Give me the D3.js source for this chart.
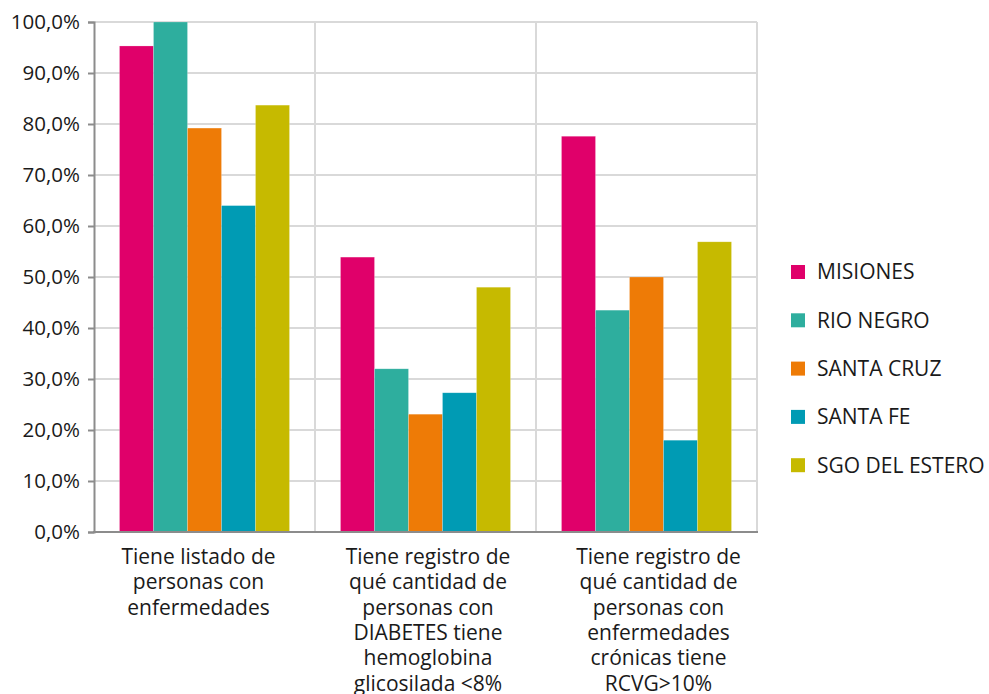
<!DOCTYPE html>
<html lang="es">
<head>
  <meta charset="UTF-8">
  <title>Registro de personas con enfermedades</title>
  <script src="https://cdnjs.cloudflare.com/ajax/libs/d3/7.8.5/d3.min.js"></script>
  <style>
    body {
      margin: 0;
      background: white;
    }
    svg {
      display: block;
      font-family: "Open Sans", "Noto Sans", sans-serif;
    }
  </style>
</head>
<body>
  <script>
    var categories = [
      "Tiene listado de\npersonas con\nenfermedades",
      "Tiene registro de\nqué cantidad de\npersonas con\nDIABETES tiene\nhemoglobina\nglicosilada <8%",
      "Tiene registro de\nqué cantidad de\npersonas con\nenfermedades\ncrónicas tiene\nRCVG>10%"
    ];
    var series = ["MISIONES", "RIO NEGRO", "SANTA CRUZ", "SANTA FE", "SGO DEL ESTERO"];
    var colors = ["#e0006a", "#2eae9e", "#ee7b06", "#009bb4", "#c6ba00"];

    // one array per province, one value per category (percent)
    var misiones = [95.3, 53.9, 77.6];
    var rioNegro = [100.0, 32.0, 43.5];
    var santaCruz = [79.2, 23.1, 50.0];
    var santaFe = [64.0, 27.3, 18.0];
    var sgoDelEstero = [83.7, 48.0, 56.9];

    var yTicks = [0, 10, 20, 30, 40, 50, 60, 70, 80, 90, 100];

    var values = [misiones, rioNegro, santaCruz, santaFe, sgoDelEstero];

    var w = 989;
    var h = 694;
    var plotLeft = 94, plotRight = 757, plotTop = 22, plotBottom = 532;
    // the source places the wrapped labels a little off the band centres
    var labelShift = [-6, 2.5, 12];

    var svg = d3.select("body").append("svg")
      .attr("width", w)
      .attr("height", h);

    var x0 = d3.scaleBand()
      .domain(d3.range(categories.length))
      .range([plotLeft, plotRight])
      .padding(0);

    var x1 = d3.scaleBand()
      .domain(series)
      .range([0, x0.bandwidth()])
      .paddingInner(0)
      .paddingOuter(0.75);

    var y = d3.scaleLinear()
      .domain([0, 100])
      .range([plotBottom, plotTop]);

    var color = d3.scaleOrdinal()
      .domain(series)
      .range(colors);

    // horizontal grid
    svg.append("g")
      .selectAll("line")
      .data(yTicks.slice(1))
      .enter()
      .append("line")
      .attr("x1", plotLeft)
      .attr("x2", plotRight)
      .attr("y1", function(d) { return y(d); })
      .attr("y2", function(d) { return y(d); })
      .attr("stroke", "#d9d9d9")
      .attr("stroke-width", 2);

    // vertical grid at category boundaries
    svg.append("g")
      .selectAll("line")
      .data(d3.range(1, categories.length + 1))
      .enter()
      .append("line")
      .attr("x1", function(d) { return plotLeft + x0.step() * d; })
      .attr("x2", function(d) { return plotLeft + x0.step() * d; })
      .attr("y1", plotTop)
      .attr("y2", plotBottom)
      .attr("stroke", "#d9d9d9")
      .attr("stroke-width", 2);

    // bars
    var groups = svg.append("g")
      .selectAll("g")
      .data(categories)
      .enter()
      .append("g")
      .attr("transform", function(d, i) { return "translate(" + x0(i) + ",0)"; });

    groups.selectAll("rect")
      .data(function(d, i) {
        return series.map(function(s, j) {
          return { key: s, value: values[j][i] };
        });
      })
      .enter()
      .append("rect")
      .attr("x", function(d) { return x1(d.key); })
      .attr("y", function(d) { return y(d.value); })
      .attr("width", x1.bandwidth())
      .attr("height", function(d) { return plotBottom - y(d.value); })
      .attr("fill", function(d) { return color(d.key); })
      .attr("stroke", "rgba(255,255,255,0.35)")
      .attr("stroke-width", 0.6);

    // y axis
    var yAxis = d3.axisLeft(y)
      .tickValues(yTicks)
      .tickSize(6)
      .tickPadding(8)
      .tickFormat(function(d) { return d.toFixed(1).replace(".", ",") + "%"; });

    var gy = svg.append("g")
      .attr("transform", "translate(" + plotLeft + ",0)")
      .call(yAxis);
    gy.select(".domain").attr("stroke", "#8c8c8c").attr("stroke-width", 2);
    gy.selectAll(".tick line").attr("stroke", "#8c8c8c").attr("stroke-width", 2);
    gy.selectAll(".tick text")
      .attr("fill", "#1a1a1a")
      .style("font-size", "20.5px")
      .style("font-family", "'Open Sans', sans-serif");

    // x axis line
    svg.append("line")
      .attr("x1", plotLeft - 1)
      .attr("x2", plotRight + 1)
      .attr("y1", plotBottom)
      .attr("y2", plotBottom)
      .attr("stroke", "#8c8c8c")
      .attr("stroke-width", 2);

    // category labels
    var labels = svg.append("g")
      .selectAll("text")
      .data(categories)
      .enter()
      .append("text")
      .attr("text-anchor", "middle")
      .attr("fill", "#1a1a1a")
      .style("font-size", "21px")
      .attr("transform", function(d, i) {
        return "translate(" + (x0(i) + x0.bandwidth() / 2 + labelShift[i]) + "," + (plotBottom + 32) + ")";
      });

    labels.selectAll("tspan")
      .data(function(d) { return d.split("\n"); })
      .enter()
      .append("tspan")
      .attr("x", 0)
      .attr("dy", function(d, i) { return i === 0 ? 0 : 25.3; })
      .text(function(d) { return d; });

    // legend
    var legend = svg.append("g")
      .selectAll("g")
      .data(series)
      .enter()
      .append("g")
      .attr("transform", function(d, i) { return "translate(791," + (272 + i * 48.3) + ")"; });

    legend.append("rect")
      .attr("x", 0)
      .attr("y", -7)
      .attr("width", 14)
      .attr("height", 14)
      .attr("fill", function(d) { return color(d); });

    legend.append("text")
      .attr("x", 26)
      .attr("y", 0)
      .attr("dy", "0.35em")
      .attr("fill", "#1a1a1a")
      .style("font-size", "21px")
      .text(function(d) { return d; });
  </script>
</body>
</html>
